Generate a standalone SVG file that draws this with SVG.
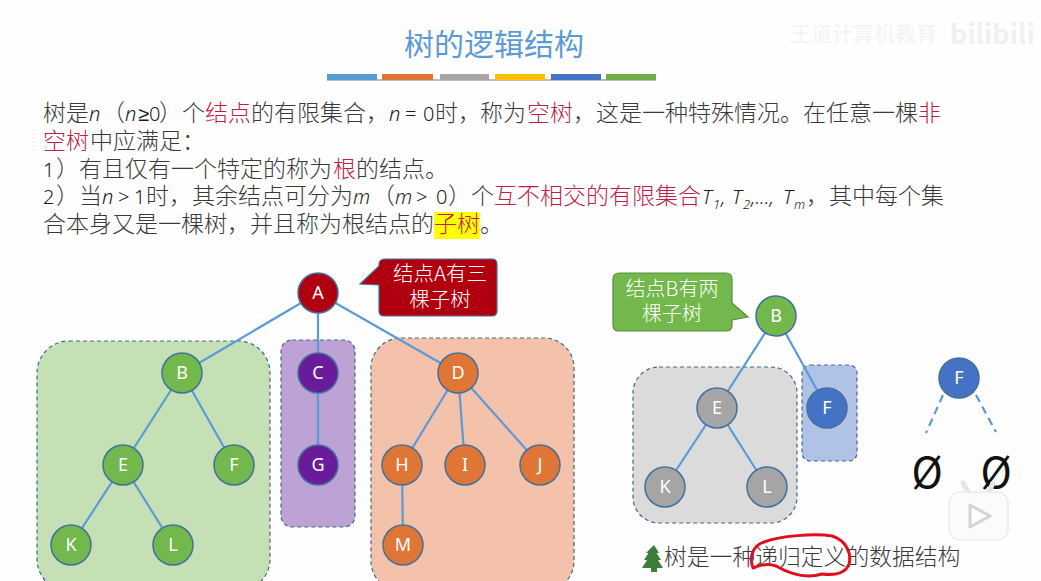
<svg xmlns="http://www.w3.org/2000/svg" width="1041" height="581" viewBox="0 0 1041 581">
<style>
text{font-family:"Noto Sans CJK SC","Noto Sans",sans-serif}
.t{font-size:23px;fill:#3a3a3a;font-weight:300}
.r{fill:#c01f45}
.i{font-family:"Noto Sans",sans-serif;font-style:italic;font-size:20px;fill:#1c1c1c}
.l{font-family:"Noto Sans",sans-serif;font-size:20px;fill:#1c1c1c}
.i.sub{font-size:13px}
.c{stroke:#5b9bd5;stroke-width:2.2;fill:none}
.d{stroke-dasharray:8 5}
.p{stroke:#44688c;stroke-width:1.2;stroke-dasharray:4 3}
.n{stroke:#41719c;stroke-width:1.5}
.nt{font-family:"Noto Sans",sans-serif;font-size:18px;fill:#fff;text-anchor:middle}
.g{fill:#72b84c}.v{fill:#6a1b9a}.o{fill:#e07636}.y{fill:#a5a5a5}.b{fill:#4472c4}.a{fill:#b00010}
.ct{fill:#fff;text-anchor:middle;font-weight:300}
.bar{height:6px;y:74px}
</style>
<rect width="1041" height="581" fill="#fefefe"/>
<g id="header">
<text x="494" y="55" font-size="30" fill="#5b9bd5" text-anchor="middle">树的逻辑结构</text>
<rect x="327" y="79" width="329" height="2" fill="#bbb"/>
<rect class="bar" x="327" width="50" fill="#5b9bd5"/>
<rect class="bar" x="382" width="51" fill="#e07636"/>
<rect class="bar" x="440" width="49" fill="#a5a5a5"/>
<rect class="bar" x="495" width="50" fill="#ffc000"/>
<rect class="bar" x="551" width="50" fill="#4472c4"/>
<rect class="bar" x="606" width="50" fill="#70ad47"/>
<text x="790" y="41" font-size="21" fill="#f3f3f3">王道计算机教育</text>
<text x="950" y="44" font-size="27" font-weight="bold" fill="#f0f0f0" font-family="Noto Sans">bilibili</text>
</g>
<g id="definition">
<rect x="434" y="212" width="46" height="27" fill="#ffff00"/>
<text class="t" y="121"><tspan x="89" class="i">n</tspan></text>
<text class="t" y="121"><tspan x="43">树是</tspan></text>
<text class="t" y="121"><tspan x="102">（</tspan><tspan x="125" class="i">n</tspan><tspan x="138" class="l">≥0</tspan><tspan x="159">）</tspan><tspan x="182">个</tspan><tspan x="205" class="r">结点</tspan><tspan x="251">的有限集合，</tspan><tspan x="389" class="i">n</tspan><tspan x="405" class="l">=</tspan><tspan x="423" class="l">0</tspan><tspan x="435">时，</tspan><tspan x="480">称为</tspan><tspan x="527" class="r">空树</tspan><tspan x="573">，这是一种特殊情况。在任意一棵</tspan><tspan x="918" class="r">非</tspan></text>
<text class="t" y="149"><tspan x="43" class="r">空树</tspan><tspan x="90">中应满足：</tspan></text>
<text class="t" y="177"><tspan x="43" class="l">1</tspan><tspan x="56">）有且仅有一个特定的称为</tspan><tspan x="333" class="r">根</tspan><tspan x="356">的结点。</tspan></text>
<text class="t" y="204"><tspan x="43" class="l">2</tspan><tspan x="56">）当</tspan><tspan x="102" class="i">n</tspan><tspan x="118" class="l">&gt;</tspan><tspan x="134" class="l">1</tspan><tspan x="146">时，其余结点可分为</tspan><tspan x="353" class="i">m</tspan><tspan x="372">（</tspan><tspan x="395" class="i">m</tspan><tspan x="416" class="l">&gt;</tspan><tspan x="436" class="l">0</tspan><tspan x="448">）个</tspan><tspan x="494" class="r">互不相交的有限集合</tspan><tspan x="702" class="i">T</tspan><tspan x="713" dy="5" class="i sub">1</tspan><tspan x="721" dy="-5" class="i">,</tspan><tspan x="732" class="i">T</tspan><tspan x="743" dy="5" class="i sub">2</tspan><tspan x="751" dy="-5" class="i">,...,</tspan><tspan x="783" class="i">T</tspan><tspan x="794" dy="5" class="i sub">m</tspan><tspan x="806" dy="-5">，其中每个集</tspan></text>
<text class="t" y="232"><tspan x="43">合本身又是一棵树，并且称为根结点的</tspan><tspan x="434" class="r">子树</tspan><tspan x="480">。</tspan></text>
</g>
<g id="panels">
<rect class="p" x="37" y="341" width="233" height="250" rx="32" fill="#c5e0b4"/>
<rect class="p" x="281" y="340" width="74" height="187" rx="11" fill="#bda2d6"/>
<rect class="p" x="371" y="338" width="203" height="253" rx="30" fill="#f4c2aa"/>
<rect class="p" x="633" y="367" width="164" height="156" rx="26" fill="#dbdbdb"/>
<rect class="p" x="802" y="365" width="55" height="96" rx="8" fill="#b0c2e6"/>
</g>
<g id="connectors">
<path class="c" d="M318 293L182 373M318 293V373M318 293L458 373M182 373L123 465M182 373L234 465M318 373V465M458 373L402 465M458 373L465 465M458 373L540 465M123 465L71 545M123 465L173 545M402 465L403 545M776 316L717 408M776 316L827 408M717 408L665 487M717 408L767 487"/>
<path class="c d" d="M943 395L926 433M976 395L996 432"/>
</g>
<g id="node-A"><circle class="n a" cx="318" cy="293" r="20"/><text class="nt" x="318" y="299">A</text></g>
<g id="node-B"><circle class="n g" cx="182" cy="373" r="20"/><text class="nt" x="182" y="379">B</text></g>
<g id="node-C"><circle class="n v" cx="318" cy="373" r="20"/><text class="nt" x="318" y="379">C</text></g>
<g id="node-D"><circle class="n o" cx="458" cy="373" r="20"/><text class="nt" x="458" y="379">D</text></g>
<g id="node-E"><circle class="n g" cx="123" cy="465" r="20"/><text class="nt" x="123" y="471">E</text></g>
<g id="node-F"><circle class="n g" cx="234" cy="465" r="20"/><text class="nt" x="234" y="471">F</text></g>
<g id="node-G"><circle class="n v" cx="318" cy="465" r="20"/><text class="nt" x="318" y="471">G</text></g>
<g id="node-H"><circle class="n o" cx="402" cy="465" r="20"/><text class="nt" x="402" y="471">H</text></g>
<g id="node-I"><circle class="n o" cx="465" cy="465" r="20"/><text class="nt" x="465" y="471">I</text></g>
<g id="node-J"><circle class="n o" cx="540" cy="465" r="20"/><text class="nt" x="540" y="471">J</text></g>
<g id="node-K"><circle class="n g" cx="71" cy="545" r="20"/><text class="nt" x="71" y="551">K</text></g>
<g id="node-L"><circle class="n g" cx="173" cy="545" r="20"/><text class="nt" x="173" y="551">L</text></g>
<g id="node-M"><circle class="n o" cx="403" cy="545" r="20"/><text class="nt" x="403" y="551">M</text></g>
<g id="node-B2"><circle class="n g" cx="776" cy="316" r="20"/><text class="nt" x="776" y="322">B</text></g>
<g id="node-E2"><circle class="n y" cx="717" cy="408" r="20"/><text class="nt" x="717" y="414">E</text></g>
<g id="node-F2"><circle class="n b" cx="827" cy="408" r="20"/><text class="nt" x="827" y="414">F</text></g>
<g id="node-K2"><circle class="n y" cx="665" cy="487" r="20"/><text class="nt" x="665" y="493">K</text></g>
<g id="node-L2"><circle class="n y" cx="767" cy="487" r="20"/><text class="nt" x="767" y="493">L</text></g>
<g id="node-F3"><circle class="n b" cx="959" cy="378" r="20"/><text class="nt" x="959" y="384">F</text></g>
<g id="callout-A">
<path d="M386 259H492Q497 259 497 264V311Q497 316 492 316H384Q379 316 379 311V285L360 284L379 266V264Q379 259 386 259Z" fill="#b00010" stroke="#41719c" stroke-width="1.2"/>
<text class="ct" x="440" y="281" font-size="20.5">结点A有三</text>
<text class="ct" x="440" y="307" font-size="20.5">棵子树</text>
</g>
<g id="callout-B">
<path d="M619 273H726Q732 273 732 279V303L748 317L732 320V325Q732 331 726 331H619Q613 331 613 325V279Q613 273 619 273Z" fill="#72b84c" stroke="#5a8f3a" stroke-width="1.2"/>
<text class="ct" x="672" y="296" font-size="20">结点B有两</text>
<text class="ct" x="672" y="321" font-size="20">棵子树</text>
</g>
<g id="empty-sets">
<text x="927" y="488" font-family="Liberation Sans" font-size="42" fill="#111" text-anchor="middle">Ø</text>
<text x="996" y="488" font-family="Liberation Sans" font-size="42" fill="#111" text-anchor="middle">Ø</text>
</g>
<g id="play-badge">
<path d="M970 496L963 483M987 496L993 483" stroke="#e6e6e6" stroke-width="5" stroke-linecap="round"/>
<rect x="949" y="492" width="59" height="48" rx="11" fill="#fbfbfb" stroke="#ececec" stroke-width="1.5"/>
<path d="M970 505L990 516L970 527Z" fill="#fff" stroke="#d4d4d4" stroke-width="3" stroke-linejoin="round"/>
</g>
<g id="footer">
<path d="M654 545L659 553L656.500 553L661 560L658 560L663 568L657 568V572H651V568L642 568L647 560L644 560L648.500 553L646 553Z" fill="#3b7d3b"/>
<text x="664" y="565" font-size="22.8" font-weight="300" fill="#3a3a3a">树是一种递归定义的数据结构</text>
<path d="M753 568C749 558 752 546 764 542C780 536 815 533 832 536C846 540 852 554 849 564C846 572 838 576 822 574C806 579 790 574 776 566C768 563 760 565 753 568" fill="none" stroke="#e01020" stroke-width="3" stroke-linecap="round"/>
</g>
</svg>
